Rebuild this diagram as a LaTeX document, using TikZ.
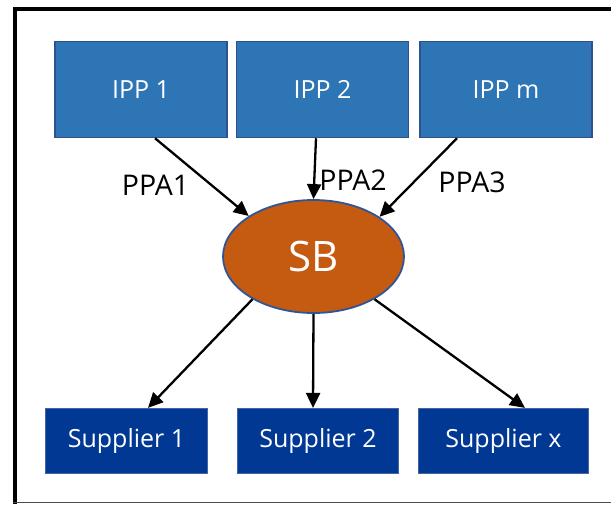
\documentclass[tikz,border=0pt]{standalone}
\usepackage{fontspec}
\setmainfont{Open Sans}
\usetikzlibrary{shapes.geometric,arrows.meta}
\definecolor{ippfill}{RGB}{46,117,182}
\definecolor{ippline}{RGB}{47,82,143}
\definecolor{supfill}{RGB}{0,56,147}
\definecolor{supline}{RGB}{70,100,165}
\definecolor{sbfill}{RGB}{197,90,17}
\definecolor{sbline}{RGB}{47,85,151}
\tikzset{
  ippbox/.style={draw=ippline, fill=ippfill, line width=1.5pt, minimum width=172pt, minimum height=96pt, inner sep=0pt, text=white, font=\fontsize{25}{29}\selectfont},
  supbox/.style={draw=supline, fill=supfill, line width=1.2pt, minimum height=65pt, inner sep=0pt, text=white, font=\fontsize{25}{29}\selectfont},
  sbnode/.style={ellipse, draw=sbline, fill=sbfill, line width=1.8pt, minimum width=181pt, minimum height=113pt, inner sep=0pt, text=white, font=\fontsize{42}{48}\selectfont},
  flow/.style={line width=2.3pt, -{Triangle[length=15pt,width=14pt]}},
  lbl/.style={font=\fontsize{28.5}{33}\selectfont, inner sep=0pt}
}
\begin{document}
\begin{tikzpicture}[x=1pt,y=-1pt]
\useasboundingbox (0,0) rectangle (611,504);
\draw[line width=4pt] (15,504) -- (15,9) -- (611,9);
\draw[line width=1.5pt, black!70] (13,502.5) -- (611,502.5);
\node[ippbox] (ipp1) at (141,89.5) {IPP 1};
\node[ippbox] (ipp2) at (322.5,89.5) {IPP 2};
\node[ippbox] (ippm) at (506,89.5) {IPP m};
\node[sbnode] (sb) at (313.5,256.5) {SB};
\node[supbox, minimum width=162pt] (s1) at (126.5,441) {Supplier 1};
\node[supbox, minimum width=161pt] (s2) at (318,441) {Supplier 2};
\node[supbox, minimum width=170pt] (sx) at (503.5,441) {Supplier x};
\draw[flow] ([xshift=14pt]ipp1.south) -- (sb.148.7);
\draw[flow] ([xshift=-6.5pt]ipp2.south) -- (sb.north);
\draw[flow] ([xshift=-49pt]ippm.south) -- (sb.31.7);
\draw[flow] (sb.215.1) -- ([xshift=21.5pt]s1.north);
\draw[flow] (sb.south) -- ([xshift=-5pt]s2.north);
\draw[flow] (sb.325.4) -- ([xshift=21.5pt]sx.north);
\node[lbl] (p1) at (155.5,185) {PPA1};
\node[lbl] (p2) at (353,180) {PPA2};
\node[lbl] (p3) at (472,182) {PPA3};
\end{tikzpicture}
\end{document}
